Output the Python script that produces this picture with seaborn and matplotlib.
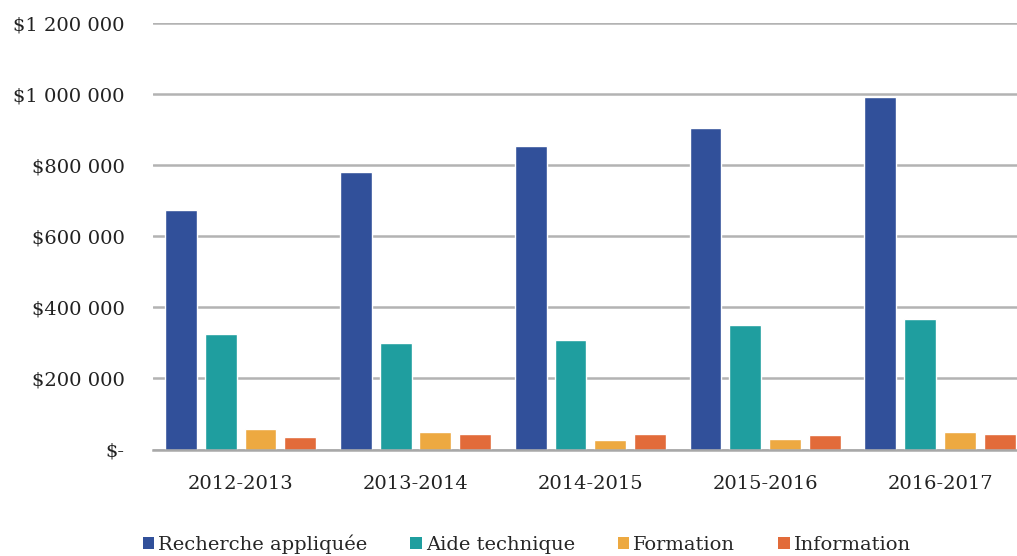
import numpy as np
import pandas as pd
import matplotlib
matplotlib.use("Agg")
import matplotlib.pyplot as plt
import seaborn as sns
from matplotlib.patches import Patch
from matplotlib.ticker import FuncFormatter

# ==========================
# DATA
# ==========================
YEARS = ["2012-2013", "2013-2014", "2014-2015", "2015-2016", "2016-2017"]
SERIES = ["Recherche appliquée", "Aide technique", "Formation", "Information"]

recherche = [673000, 780000, 855000, 904000, 991000]
aide = [325000, 299000, 308000, 350000, 367000]
formation = [59000, 48000, 27000, 31000, 48000]
information = [35000, 44000, 44000, 40000, 44000]

COLORS = ["#31509A", "#1F9E9F", "#EDA941", "#E26B3A"]
Y_TICKS = [0, 200000, 400000, 600000, 800000, 1000000, 1200000]

# ==========================
# TABLE
# ==========================
df = pd.DataFrame({
    "year": YEARS * 4,
    "serie": np.repeat(SERIES, len(YEARS)),
    "value": recherche + aide + formation + information,
})


def money(v, pos):
    if v == 0:
        return "$-"
    return "$" + f"{int(v):,}".replace(",", " ")


# ==========================
# PLOT
# ==========================
sns.set_style("white")
plt.rcParams["font.family"] = ["DejaVu Serif"]

fig = plt.figure(figsize=(10.17, 5.56), dpi=100)
ax = fig.add_axes([0.150, 0.1915, 0.85, 0.767])

sns.barplot(
    data=df, x="year", y="value", hue="serie",
    hue_order=SERIES, palette=COLORS,
    width=0.91, gap=0.2, saturation=1, ax=ax,
)

ax.set_ylim(0, 1200000)
ax.set_xlim(-0.504, 4.44)
ax.set_yticks(Y_TICKS)
ax.yaxis.set_major_formatter(FuncFormatter(money))
ax.yaxis.grid(True, color="#B3B3B3", linewidth=1.8)
ax.set_axisbelow(True)

for side in ["top", "right", "left"]:
    ax.spines[side].set_visible(False)
ax.spines["bottom"].set_color("#A8A8A8")
ax.spines["bottom"].set_linewidth(1.8)

ax.tick_params(axis="y", length=0, pad=20, labelsize=14, labelcolor="#222222")
ax.tick_params(axis="x", length=0, pad=18, labelsize=14, labelcolor="#222222")
ax.set_xlabel("")
ax.set_ylabel("")

ax.legend_.remove()
handles = [Patch(facecolor=c, edgecolor="none") for c in COLORS]
fig.legend(
    handles, SERIES, loc="lower center", bbox_to_anchor=(0.518, -0.028),
    ncol=4, frameon=False, fontsize=14,
    handlelength=0.6, handleheight=0.6, handletextpad=0.2, columnspacing=2.2,
)

fig.savefig("out.png", dpi=100)
